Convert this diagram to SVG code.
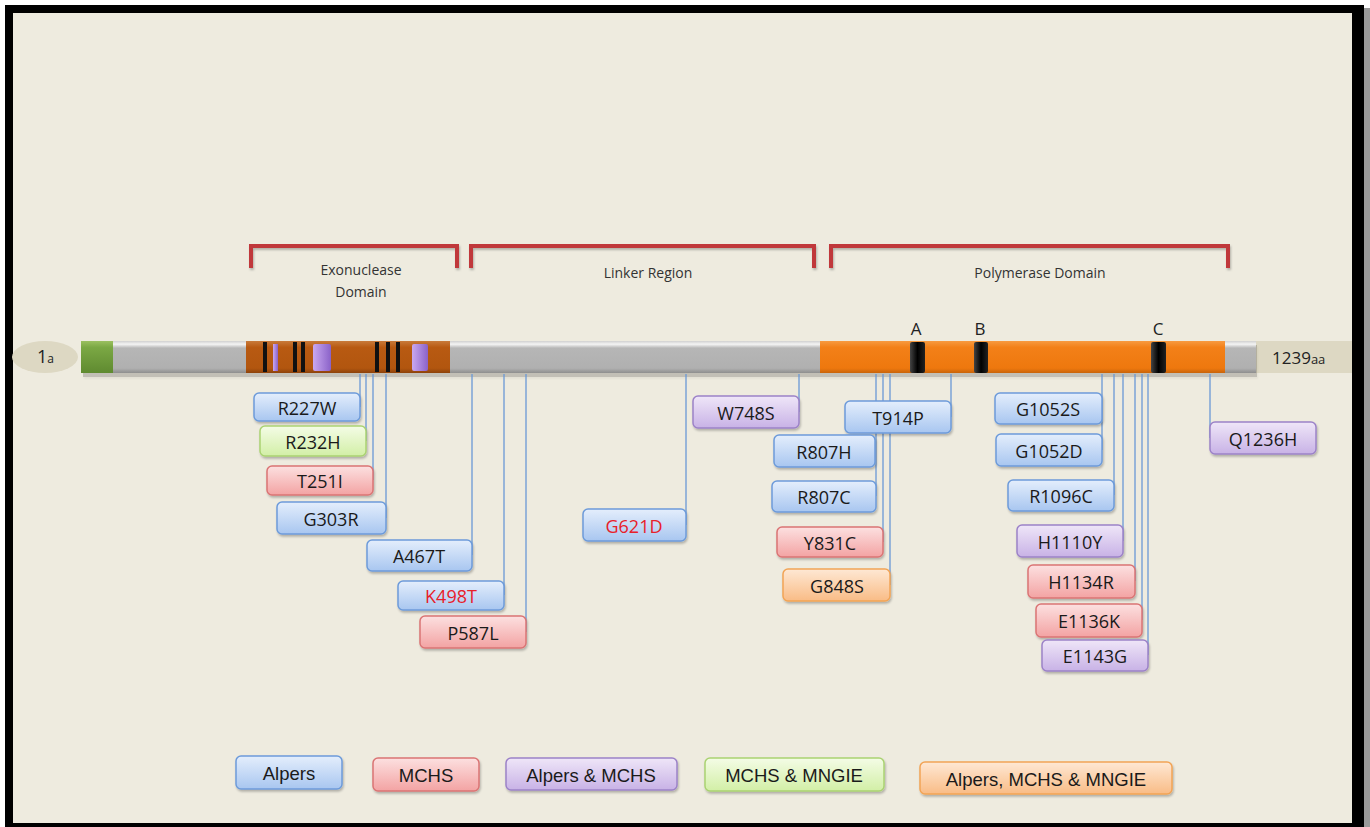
<svg xmlns="http://www.w3.org/2000/svg" width="1370" height="827" viewBox="0 0 1370 827">
<defs>
<linearGradient id="gBlue" x1="0" y1="0" x2="0" y2="1"><stop offset="0" stop-color="#E4EEFC"/><stop offset="1" stop-color="#A8C6F0"/></linearGradient>
<linearGradient id="gRed" x1="0" y1="0" x2="0" y2="1"><stop offset="0" stop-color="#FCE0E0"/><stop offset="1" stop-color="#F3A3A3"/></linearGradient>
<linearGradient id="gPurple" x1="0" y1="0" x2="0" y2="1"><stop offset="0" stop-color="#EFE6F8"/><stop offset="1" stop-color="#C8B2E6"/></linearGradient>
<linearGradient id="gGreen" x1="0" y1="0" x2="0" y2="1"><stop offset="0" stop-color="#F4FCE6"/><stop offset="1" stop-color="#D2EFA6"/></linearGradient>
<linearGradient id="gOrange" x1="0" y1="0" x2="0" y2="1"><stop offset="0" stop-color="#FEE8D4"/><stop offset="1" stop-color="#F9BC86"/></linearGradient>
<linearGradient id="gGrey" x1="0" y1="0" x2="0" y2="1"><stop offset="0" stop-color="#D0D0D0"/><stop offset="0.1" stop-color="#F4F4F4"/><stop offset="0.22" stop-color="#B6B6B6"/><stop offset="0.85" stop-color="#B0B0B0"/><stop offset="1" stop-color="#8E8E8E"/></linearGradient>
<linearGradient id="gOr" x1="0" y1="0" x2="0" y2="1"><stop offset="0" stop-color="#F79A40"/><stop offset="0.2" stop-color="#F38018"/><stop offset="0.85" stop-color="#EE780E"/><stop offset="1" stop-color="#C8640A"/></linearGradient>
<linearGradient id="gBr" x1="0" y1="0" x2="0" y2="1"><stop offset="0" stop-color="#C87A3A"/><stop offset="0.2" stop-color="#B85A12"/><stop offset="0.85" stop-color="#B2560F"/><stop offset="1" stop-color="#8C420A"/></linearGradient>
<linearGradient id="gGr" x1="0" y1="0" x2="0" y2="1"><stop offset="0" stop-color="#9BC060"/><stop offset="0.2" stop-color="#7BA844"/><stop offset="1" stop-color="#5F8A30"/></linearGradient>
<linearGradient id="gPu" x1="0" y1="0" x2="1" y2="0"><stop offset="0" stop-color="#C9A8F0"/><stop offset="1" stop-color="#8A62C8"/></linearGradient>
<linearGradient id="gBk" x1="0" y1="0" x2="1" y2="0"><stop offset="0" stop-color="#444"/><stop offset="0.5" stop-color="#000"/><stop offset="1" stop-color="#222"/></linearGradient>
<filter id="sh" x="-10%" y="-20%" width="130%" height="160%"><feDropShadow dx="1" dy="2" stdDeviation="1.2" flood-color="#000" flood-opacity="0.25"/></filter>
</defs>
<style>
.mut text{font-family:"Open Sans","Liberation Sans",sans-serif;font-size:18px;fill:#1A1A1A;text-anchor:middle;dominant-baseline:central}
.mut rect{filter:url(#sh)}
.blue rect{fill:url(#gBlue);stroke:#6D9BDA;stroke-width:1.5}
.red rect{fill:url(#gRed);stroke:#DA7474;stroke-width:1.5}
.purple rect{fill:url(#gPurple);stroke:#9C82C8;stroke-width:1.5}
.green rect{fill:url(#gGreen);stroke:#AAD272;stroke-width:1.5}
.orange rect{fill:url(#gOrange);stroke:#F2A456;stroke-width:1.5}
.leg text{font-family:"Liberation Sans",Arial,sans-serif;font-size:18.5px}
.redt{fill:#E8202A !important}
.conn line{stroke:#6A98D6;stroke-width:1.3}
.br{fill:none;stroke:#C0393B;stroke-width:4;filter:url(#sh)}
.lbl{font-family:"Open Sans","Liberation Sans",sans-serif;font-size:14px;fill:#333;text-anchor:middle}
.abc{font-family:"Open Sans","Liberation Sans",sans-serif;font-size:17px;fill:#222;text-anchor:middle}
</style>
<rect x="0" y="0" width="1370" height="827" fill="#FFFFFF"/>
<rect x="5" y="5" width="1359" height="822" fill="#000"/>
<rect x="1364" y="8" width="6" height="819" fill="#9A9A9A"/>
<rect x="13" y="13" width="1339" height="810" fill="#EEEBDF"/>

<g id="brackets">
<path class="br" d="M251,268 V246 H457 V268"/>
<path class="br" d="M471,268 V246 H814 V268"/>
<path class="br" d="M831,268 V246 H1228 V268"/>
<text class="lbl" x="361" y="275">Exonuclease</text>
<text class="lbl" x="361" y="297">Domain</text>
<text class="lbl" x="648" y="278">Linker Region</text>
<text class="lbl" x="1040" y="278">Polymerase Domain</text>
</g>

<g id="protein">
<ellipse cx="45" cy="357" rx="33" ry="16" fill="#DDD8C3"/>
<text x="37" y="363" font-family="Open Sans, Liberation Sans, sans-serif" font-size="18" fill="#222">1<tspan font-size="12">a</tspan></text>
<rect x="1256" y="341" width="96" height="32" fill="#DDD8C3"/>
<text x="1272" y="364" font-family="Open Sans, Liberation Sans, sans-serif" font-size="17" fill="#222">1239<tspan font-size="13">aa</tspan></text>
<rect x="83" y="345" width="1174" height="32" fill="#000" opacity="0.18" filter="url(#sh)"/>
<rect x="81" y="341" width="32" height="32" fill="url(#gGr)"/>
<rect x="113" y="341" width="133" height="32" fill="url(#gGrey)"/>
<rect x="246" y="341" width="204" height="32" fill="url(#gBr)"/>
<rect x="450" y="341" width="370" height="32" fill="url(#gGrey)"/>
<rect x="820" y="341" width="405" height="32" fill="url(#gOr)"/>
<rect x="1225" y="341" width="31" height="32" fill="url(#gGrey)"/>
<rect x="263" y="342" width="4" height="30" fill="#111"/>
<rect x="273" y="344" width="5" height="27" fill="url(#gPu)"/>
<rect x="293" y="342" width="4" height="30" fill="#111"/>
<rect x="301" y="342" width="4" height="30" fill="#111"/>
<rect x="313" y="344" width="18" height="27" rx="2" fill="url(#gPu)"/>
<rect x="375" y="342" width="4" height="30" fill="#111"/>
<rect x="386" y="342" width="4" height="30" fill="#111"/>
<rect x="396" y="342" width="4" height="30" fill="#111"/>
<rect x="412" y="344" width="16" height="27" rx="2" fill="url(#gPu)"/>
<rect x="910" y="342" width="15" height="31" rx="2" fill="url(#gBk)"/>
<rect x="974" y="342" width="14" height="31" rx="2" fill="url(#gBk)"/>
<rect x="1151" y="342" width="15" height="31" rx="2" fill="url(#gBk)"/>
<text class="abc" x="916" y="335">A</text>
<text class="abc" x="980" y="335">B</text>
<text class="abc" x="1158" y="335">C</text>
</g>

<g class="conn" id="connectors">
<line x1="360" y1="374" x2="360" y2="407"/>
<line x1="366" y1="374" x2="366" y2="441"/>
<line x1="373" y1="374" x2="373" y2="480"/>
<line x1="386" y1="374" x2="386" y2="518"/>
<line x1="472" y1="374" x2="472" y2="555"/>
<line x1="504" y1="374" x2="504" y2="595"/>
<line x1="526" y1="374" x2="526" y2="632"/>
<line x1="686" y1="374" x2="686" y2="525"/>
<line x1="799" y1="374" x2="799" y2="412"/>
<line x1="876" y1="374" x2="876" y2="496"/>
<line x1="883" y1="374" x2="883" y2="542"/>
<line x1="890" y1="374" x2="890" y2="585"/>
<line x1="951" y1="374" x2="951" y2="417"/>
<line x1="1102" y1="374" x2="1102" y2="450"/>
<line x1="1114" y1="374" x2="1114" y2="495"/>
<line x1="1123" y1="374" x2="1123" y2="541"/>
<line x1="1135" y1="374" x2="1135" y2="581"/>
<line x1="1142" y1="374" x2="1142" y2="620"/>
<line x1="1148" y1="374" x2="1148" y2="655"/>
<line x1="1210" y1="374" x2="1210" y2="438"/>
</g>

<g id="R227W" class="mut blue"><rect x="254" y="393" width="106" height="28" rx="5"/><text x="307" y="408">R227W</text></g>
<g id="R232H" class="mut green"><rect x="260" y="426" width="106" height="30" rx="5"/><text x="313" y="442">R232H</text></g>
<g id="T251I" class="mut red"><rect x="267" y="466" width="106" height="29" rx="5"/><text x="320" y="481">T251I</text></g>
<g id="G303R" class="mut blue"><rect x="277" y="502" width="109" height="32" rx="5"/><text x="331" y="519">G303R</text></g>
<g id="A467T" class="mut blue"><rect x="367" y="540" width="105" height="31" rx="5"/><text x="419" y="556">A467T</text></g>
<g id="K498T" class="mut blue"><rect x="398" y="581" width="106" height="29" rx="5"/><text class="redt" x="451" y="596">K498T</text></g>
<g id="P587L" class="mut red"><rect x="420" y="616" width="106" height="32" rx="5"/><text x="473" y="633">P587L</text></g>
<g id="G621D" class="mut blue"><rect x="583" y="509" width="103" height="32" rx="5"/><text class="redt" x="634" y="526">G621D</text></g>
<g id="W748S" class="mut purple"><rect x="693" y="396" width="106" height="32" rx="5"/><text x="746" y="413">W748S</text></g>
<g id="T914P" class="mut blue"><rect x="845" y="401" width="106" height="32" rx="5"/><text x="898" y="418">T914P</text></g>
<g id="R807H" class="mut blue"><rect x="774" y="435" width="101" height="32" rx="5"/><text x="824" y="452">R807H</text></g>
<g id="R807C" class="mut blue"><rect x="772" y="481" width="104" height="31" rx="5"/><text x="824" y="497">R807C</text></g>
<g id="Y831C" class="mut red"><rect x="777" y="527" width="106" height="30" rx="5"/><text x="830" y="543">Y831C</text></g>
<g id="G848S" class="mut orange"><rect x="783" y="569" width="107" height="32" rx="5"/><text x="837" y="586">G848S</text></g>
<g id="G1052S" class="mut blue"><rect x="995" y="393" width="107" height="31" rx="5"/><text x="1048" y="409">G1052S</text></g>
<g id="G1052D" class="mut blue"><rect x="996" y="434" width="106" height="32" rx="5"/><text x="1049" y="451">G1052D</text></g>
<g id="R1096C" class="mut blue"><rect x="1008" y="480" width="106" height="31" rx="5"/><text x="1061" y="496">R1096C</text></g>
<g id="H1110Y" class="mut purple"><rect x="1017" y="525" width="106" height="32" rx="5"/><text x="1070" y="542">H1110Y</text></g>
<g id="H1134R" class="mut red"><rect x="1028" y="565" width="107" height="33" rx="5"/><text x="1081" y="582">H1134R</text></g>
<g id="E1136K" class="mut red"><rect x="1036" y="604" width="106" height="33" rx="5"/><text x="1089" y="621">E1136K</text></g>
<g id="E1143G" class="mut purple"><rect x="1042" y="640" width="106" height="31" rx="5"/><text x="1095" y="656">E1143G</text></g>
<g id="Q1236H" class="mut purple"><rect x="1210" y="422" width="106" height="32" rx="5"/><text x="1263" y="439">Q1236H</text></g>

<g id="legend-alpers" class="mut leg blue"><rect x="236" y="756" width="106" height="33" rx="5"/><text x="289" y="773">Alpers</text></g>
<g id="legend-mchs" class="mut leg red"><rect x="373" y="758" width="106" height="33" rx="5"/><text x="426" y="775">MCHS</text></g>
<g id="legend-alpers-mchs" class="mut leg purple"><rect x="506" y="758" width="171" height="32" rx="5"/><text x="591" y="775">Alpers &amp; MCHS</text></g>
<g id="legend-mchs-mngie" class="mut leg green"><rect x="705" y="758" width="179" height="33" rx="5"/><text x="794" y="775">MCHS &amp; MNGIE</text></g>
<g id="legend-all" class="mut leg orange"><rect x="920" y="762" width="252" height="32" rx="5"/><text x="1046" y="779">Alpers, MCHS &amp; MNGIE</text></g>
</svg>
